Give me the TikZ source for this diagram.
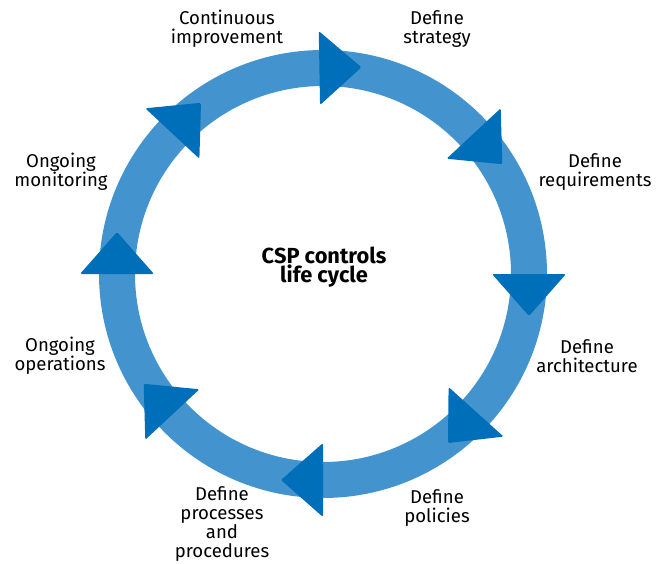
\documentclass[tikz,border=0pt]{standalone}
\usepackage{fontspec}
\setmainfont{Fira Sans}
\usetikzlibrary{positioning}
\definecolor{ringcolor}{RGB}{67,148,206}
\definecolor{headcolor}{RGB}{0,111,186}

\begin{document}
\begin{tikzpicture}[
    ring/.style={draw=ringcolor, line width=0.9cm},
    head/.style={fill=headcolor, rounded corners=1pt},
    phase/.style={align=center, font=\fontsize{13.2}{13.4}\selectfont, text=black},
    hub/.style={align=center, font=\fontsize{15.5}{14}\selectfont\bfseries}
]
    \useasboundingbox (-8.075,-7.225) rectangle (8.325,6.85);

    % Cycle ring
    \node[hub] (hub) at (0.025,0.175) {CSP controls\\life cycle};
    \draw[ring] (hub.center) ++(-0.025,-0.175) circle (5.15);

    % Arrow heads, clockwise
    \foreach \a in {91,43,0,-42,-90,-137,180,137}
        \fill[head, rotate=\a] (4.225,0) -- (6.075,0) -- (5.15,-1.05) -- cycle;

    % Phase labels
    \node[phase] (strategy) at (2.85,6.125) {Define\\strategy};
    \node[phase] (requirements) at (6.8,2.55) {Define\\requirements};
    \node[phase] (architecture) at (6.6,-2.05) {Define\\architecture};
    \node[phase] (policies) at (2.85,-5.85) {Define\\policies};
    \node[phase] (processes) at (-2.525,-6.25) {Define\\processes\\and\\procedures};
    \node[phase] (operations) at (-6.575,-2.05) {Ongoing\\operations};
    \node[phase] (monitoring) at (-6.55,2.55) {Ongoing\\monitoring};
    \node[phase] (improvement) at (-2.4,6.125) {Continuous\\improvement};
\end{tikzpicture}
\end{document}
